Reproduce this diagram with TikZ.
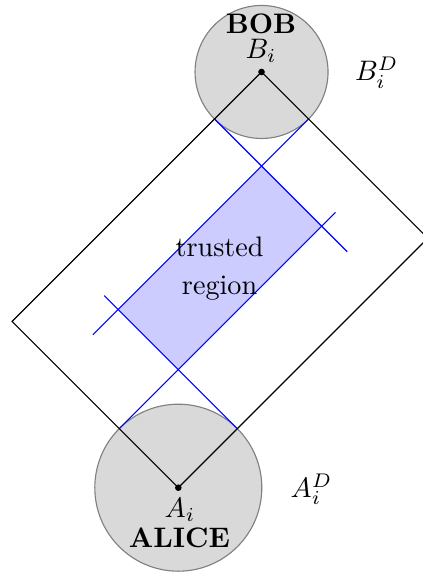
\documentclass[tikz,border=0pt]{standalone}
\begin{document}
\begin{tikzpicture}[x=0.3546pt,y=0.3546pt,
  party/.style={fill=gray!30,draw=gray,line width=0.4pt},
  bluel/.style={draw=blue,line width=0.4pt},
  edge/.style={draw=black,line width=0.4pt},
  lbl/.style={inner sep=0pt,anchor=base}]
\useasboundingbox (0,0) rectangle (422,572);
\begin{scope}[shift={(178.3,84.3)},rotate=45]
  \coordinate (A) at (0,0);
  \coordinate (R) at (352.8,0);
  \coordinate (B) at (352.8,235.1);
  \coordinate (L) at (0,235.1);
  \coordinate (t1) at (83.5,83.5);
  \coordinate (t2) at (286.3,83.5);
  \coordinate (t3) at (286.3,168.6);
  \coordinate (t4) at (83.5,168.6);
  \coordinate (b1s) at (286.3,235.1);
  \coordinate (b1e) at (286.3,47.4);
  \coordinate (b2s) at (352.8,168.6);
  \coordinate (b2e) at (47.7,168.6);
  \coordinate (a1s) at (0,83.5);
  \coordinate (a1e) at (305.8,83.5);
  \coordinate (a2s) at (83.5,0);
  \coordinate (a2e) at (83.5,188.1);
  \path[party] (A) circle (83.5);
  \path[party] (B) circle (66.5);
  \fill[blue!20] (t1) -- (t2) -- (t3) -- (t4) -- cycle;
  \draw[bluel] (b1s) -- (b1e);
  \draw[bluel] (b2s) -- (b2e);
  \draw[bluel] (a1s) -- (a1e);
  \draw[bluel] (a2s) -- (a2e);
  \draw[edge] (A) -- (R) -- (B) -- (L) -- cycle;
  \fill (A) circle (3.3);
  \fill (B) circle (3.3);
\end{scope}
\node[lbl] (bob) at (261,538.7) {\textbf{BOB}};
\node[lbl] (bi) at (261,513.7) {$B_i$};
\node[lbl] (bid) at (376.7,491) {$B_i^D$};
\node[lbl,align=center,font=\fontsize{10}{13.3}\selectfont] (tr) at (219.6,277.7) {trusted\\region};
\node[lbl] (ai) at (180,54.3) {$A_i$};
\node[lbl] (alice) at (179.3,24.7) {\textbf{ALICE}};
\node[lbl] (aid) at (311.5,74.7) {$A_i^D$};
\end{tikzpicture}
\end{document}
